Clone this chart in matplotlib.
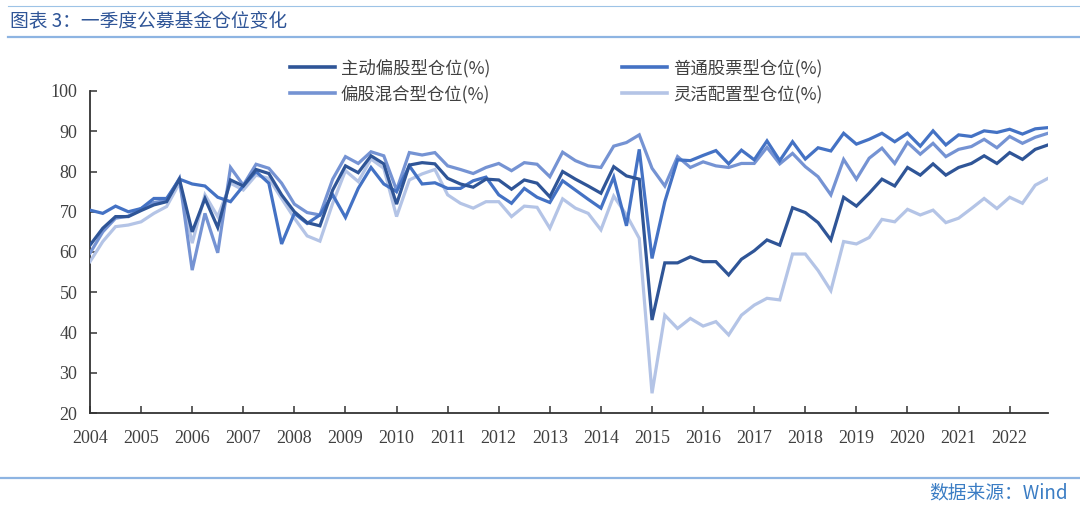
import numpy as np
import matplotlib
matplotlib.use("Agg")
import matplotlib.pyplot as plt
from matplotlib.lines import Line2D

plt.rcParams['font.family'] = ['Noto Sans CJK SC', 'DejaVu Sans']

# quarterly positions, 2004Q1 .. 2022Q4
years = [str(y) for y in range(2004, 2023)]

active_equity = [61.7, 65.9, 68.8, 68.8, 70.3, 71.7, 72.5, 78.1, 65.0, 73.3, 66.1, 77.9,
                 76.4, 80.5, 79.5, 74.2, 70.0, 67.3, 66.5, 75.4, 81.4, 79.7, 83.9, 81.9,
                 71.9, 81.6, 82.2, 81.9, 78.3, 76.9, 76.1, 78.1, 77.9, 75.6, 77.9, 77.1,
                 73.7, 80.0, 78.1, 76.4, 74.6, 81.2, 78.9, 78.1, 43.1, 57.3, 57.3, 58.8,
                 57.6, 57.6, 54.3, 58.2, 60.3, 63.0, 61.7, 71.0, 69.8, 67.3, 63.0, 73.6,
                 71.4, 74.6, 78.1, 76.4, 81.0, 79.1, 81.9, 79.1, 81.0, 82.0, 83.9, 82.0,
                 84.7, 83.0, 85.5, 86.6]

stock_fund = [70.4, 69.6, 71.4, 70.0, 70.8, 73.3, 73.3, 78.1, 76.9, 76.4, 73.6, 72.5,
              76.4, 80.0, 77.1, 62.0, 69.6, 67.1, 69.2, 74.2, 68.6, 75.8, 81.0, 76.9,
              75.0, 81.4, 76.9, 77.2, 75.8, 75.8, 77.7, 78.6, 74.2, 72.1, 75.8, 73.6,
              72.3, 77.7, 75.4, 73.1, 70.9, 78.6, 66.5, 85.5, 58.4, 72.5, 82.9, 82.7,
              84.0, 85.2, 81.9, 85.3, 82.9, 87.6, 82.7, 87.4, 83.1, 85.9, 85.1, 89.5,
              86.8, 88.0, 89.5, 87.4, 89.5, 86.3, 90.1, 86.6, 89.1, 88.7, 90.1, 89.7,
              90.5, 89.3, 90.6, 90.9]

hybrid_equity = [59.7, 65.0, 68.4, 68.9, 70.8, 72.3, 72.8, 78.3, 55.5, 69.6, 59.8, 81.0,
                 76.6, 81.8, 80.8, 77.1, 71.9, 69.8, 69.2, 78.1, 83.7, 82.0, 84.9, 83.9,
                 75.4, 84.7, 84.1, 84.7, 81.4, 80.5, 79.5, 81.0, 82.0, 80.2, 82.2, 81.8,
                 78.7, 84.8, 82.7, 81.4, 81.0, 86.3, 87.2, 89.1, 80.8, 76.4, 83.7, 81.0,
                 82.4, 81.4, 81.0, 82.0, 82.0, 86.0, 81.9, 84.5, 81.2, 78.7, 74.2, 83.0,
                 78.1, 83.3, 85.8, 82.0, 87.2, 84.3, 87.0, 83.7, 85.5, 86.2, 88.0, 85.9,
                 88.7, 87.0, 88.5, 89.5]

flexible = [57.6, 62.6, 66.3, 66.7, 67.5, 69.6, 71.3, 77.1, 62.2, 74.2, 68.8, 77.1,
            75.4, 79.1, 78.3, 73.3, 68.4, 64.0, 62.7, 72.1, 80.2, 77.5, 83.1, 80.8,
            68.8, 77.9, 79.4, 80.5, 74.2, 72.1, 70.9, 72.5, 72.5, 68.8, 71.4, 71.1,
            65.9, 73.2, 70.9, 69.6, 65.5, 73.9, 69.2, 63.4, 24.9, 44.3, 41.0, 43.5,
            41.6, 42.7, 39.4, 44.3, 46.8, 48.5, 48.1, 59.5, 59.5, 55.4, 50.4, 62.6,
            62.0, 63.6, 68.1, 67.5, 70.6, 69.2, 70.4, 67.3, 68.4, 70.8, 73.3, 70.8,
            73.6, 72.1, 76.6, 78.3]

labels = ['主动偏股型仓位(%)', '普通股票型仓位(%)', '偏股混合型仓位(%)', '灵活配置型仓位(%)']
colors = ['#2F5597', '#4472C4', '#7593D3', '#B4C4E6']

W, H = 1080, 508
fig = plt.figure(figsize=(W / 100, H / 100), dpi=100)

ax = fig.add_axes([90 / W, 1 - 413 / H, (1048 - 90) / W, (413 - 91) / H])
x = np.arange(len(active_equity))
series = [active_equity, stock_fund, hybrid_equity, flexible]
# draw lightest first so darker lines sit on top
for k in [3, 2, 1, 0]:
    ax.plot(x, series[k], color=colors[k], lw=2.3, solid_joinstyle='miter', zorder=3 + (3 - k))

ax.set_xlim(0, len(x) - 1)
ax.set_ylim(20, 100)
ax.set_yticks(range(20, 101, 10))
ax.set_xticks(np.arange(0, len(years) * 4, 4))
ax.set_xticklabels(years)

for s in ['top', 'right']:
    ax.spines[s].set_visible(False)
for s in ['left', 'bottom']:
    ax.spines[s].set_color('#333333')
    ax.spines[s].set_linewidth(1.3)

ax.tick_params(axis='both', direction='in', length=5, width=1.1, color='#333333',
               labelcolor='#404040')
ax.tick_params(axis='y', pad=9)
ax.tick_params(axis='x', pad=12)
for t in ax.get_xticklabels() + ax.get_yticklabels():
    t.set_family('Liberation Serif')
    t.set_fontsize(13)

# legend fills column by column, so reorder to get the reference rows
leg_order = [0, 2, 1, 3]
handles = [Line2D([], [], color=colors[k], lw=2.6) for k in leg_order]
leg = fig.legend(handles, [labels[k] for k in leg_order], ncol=2, loc='center left',
                 bbox_to_anchor=(274 / W, 1 - 81 / H), frameon=False,
                 fontsize=12.5, handlelength=2.6, handletextpad=0.35,
                 columnspacing=7.6, labelspacing=0.45)
for t in leg.get_texts():
    t.set_color('#404040')

# header / footer rules
fig.add_artist(Line2D([8 / W, 1], [1 - 6 / H, 1 - 6 / H], color='#9DC3E6', lw=0.8))
fig.add_artist(Line2D([8 / W, 1], [1 - 37 / H, 1 - 37 / H], color='#8DB4E2', lw=1.6))
fig.add_artist(Line2D([0, 1], [1 - 478 / H, 1 - 478 / H], color='#8DB4E2', lw=1.6))

fig.text(10 / W, 1 - 21 / H, '图表 3：一季度公募基金仓位变化', fontsize=13.5,
         color='#2F5597', va='center', ha='left')
fig.text(1068 / W, 1 - 493 / H, '数据来源：Wind', fontsize=13.5,
         color='#3B7DC4', va='center', ha='right')

fig.savefig('out.png', dpi=100)
